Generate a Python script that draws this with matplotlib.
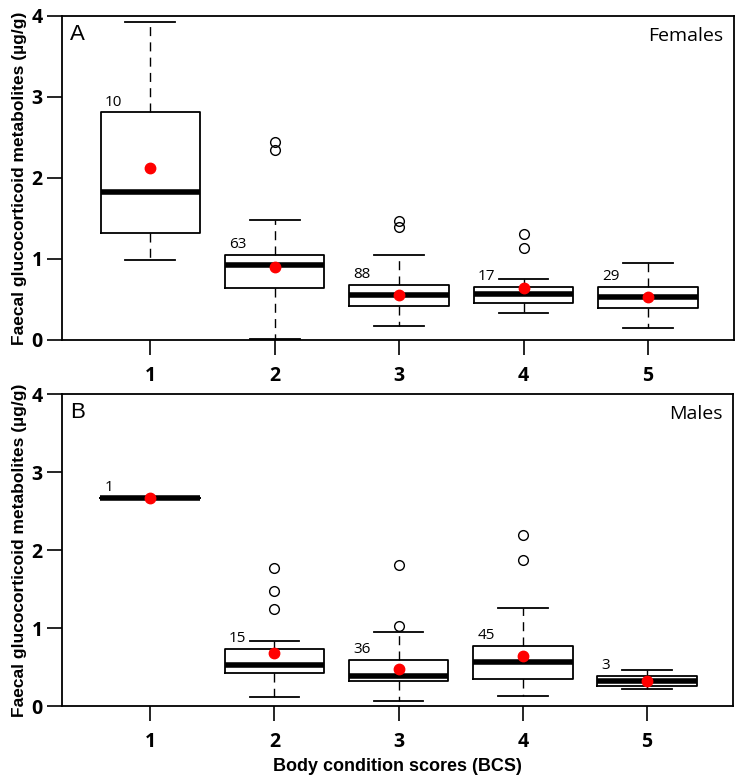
import matplotlib
matplotlib.use("Agg")
import matplotlib.pyplot as plt

# Body condition scores
bcs = [1, 2, 3, 4, 5]

# Females (panel A)
f_whislo = [0.99, 0.01, 0.17, 0.33, 0.15]
f_q1 = [1.32, 0.64, 0.42, 0.46, 0.39]
f_med = [1.83, 0.92, 0.55, 0.57, 0.53]
f_q3 = [2.81, 1.05, 0.68, 0.66, 0.66]
f_whishi = [3.92, 1.48, 1.05, 0.75, 0.95]
f_mean = [2.12, 0.90, 0.55, 0.64, 0.53]
f_fliers = [[], [2.44, 2.34], [1.47, 1.40], [1.31, 1.14], []]
f_n = [10, 63, 88, 17, 29]

# Males (panel B)
m_whislo = [2.67, 0.11, 0.06, 0.13, 0.22]
m_q1 = [2.67, 0.42, 0.32, 0.35, 0.26]
m_med = [2.67, 0.53, 0.39, 0.57, 0.32]
m_q3 = [2.67, 0.73, 0.59, 0.77, 0.39]
m_whishi = [2.67, 0.84, 0.95, 1.26, 0.46]
m_mean = [2.67, 0.68, 0.48, 0.64, 0.32]
m_fliers = [[], [1.77, 1.48, 1.25], [1.81, 1.02], [2.19, 1.87], []]
m_n = [1, 15, 36, 45, 3]

ylabel = "Faecal glucocorticoid metabolites (\u00b5g/g)"
tick_font = "Open Sans"
label_font = "Liberation Sans"


def draw_panel(ax, whislo, q1, med, q3, whishi, mean, fliers, n, letter, group):
    stats = []
    for i in range(len(bcs)):
        stats.append(dict(whislo=whislo[i], q1=q1[i], med=med[i], q3=q3[i],
                          whishi=whishi[i], fliers=fliers[i], mean=mean[i]))
    ax.bxp(stats, positions=bcs, widths=0.8, showmeans=True, showfliers=True,
           boxprops=dict(color="black", lw=1.3),
           medianprops=dict(color="black", lw=4.0, solid_capstyle="butt"),
           whiskerprops=dict(color="black", lw=1.0, linestyle=(0, (6.5, 4.5))),
           capprops=dict(color="black", lw=1.3),
           capwidths=0.4,
           flierprops=dict(marker="o", markerfacecolor="none", markeredgecolor="black",
                           markersize=7, markeredgewidth=1.0),
           meanprops=dict(marker="o", markerfacecolor="red", markeredgecolor="red",
                          markersize=7.5))
    for i, x in enumerate(bcs):
        ax.annotate(str(n[i]), xy=(x - 0.4, q3[i]), xytext=(3, 2),
                    textcoords="offset points", ha="left", va="bottom",
                    fontsize=11, family="Open Sans")
    ax.set_xlim(0.29, 5.69)
    ax.set_ylim(0, 4)
    ax.set_yticks([0, 1, 2, 3, 4])
    ax.set_xticks(bcs)
    ax.set_xticklabels([str(b) for b in bcs])
    ax.tick_params(axis="both", length=11, width=1.2, labelsize=14)
    ax.tick_params(axis="x", pad=8)
    ax.tick_params(axis="y", pad=3)
    for lab in ax.get_xticklabels() + ax.get_yticklabels():
        lab.set_fontweight("bold")
        lab.set_family(tick_font)
    for sp in ax.spines.values():
        sp.set_linewidth(1.3)
    ax.set_ylabel(ylabel, fontsize=12.5, fontweight="bold", family=label_font, labelpad=3)
    ax.text(0.012, 0.975, letter, transform=ax.transAxes, ha="left", va="top",
            fontsize=16, family=label_font)
    ax.text(0.985, 0.965, group, transform=ax.transAxes, ha="right", va="top",
            fontsize=14, family="Open Sans")


fig = plt.figure(figsize=(7.36, 7.75), dpi=100)
ax1 = fig.add_axes([0.0842, 0.5613, 0.9128, 0.4181])
ax2 = fig.add_axes([0.0842, 0.0890, 0.9114, 0.4026])

draw_panel(ax1, f_whislo, f_q1, f_med, f_q3, f_whishi, f_mean, f_fliers, f_n, "A", "Females")
draw_panel(ax2, m_whislo, m_q1, m_med, m_q3, m_whishi, m_mean, m_fliers, m_n, "B", "Males")

ax2.set_xlabel("Body condition scores (BCS)", fontsize=13, fontweight="bold",
               family=label_font, labelpad=4)

fig.savefig("out.png", dpi=100)
